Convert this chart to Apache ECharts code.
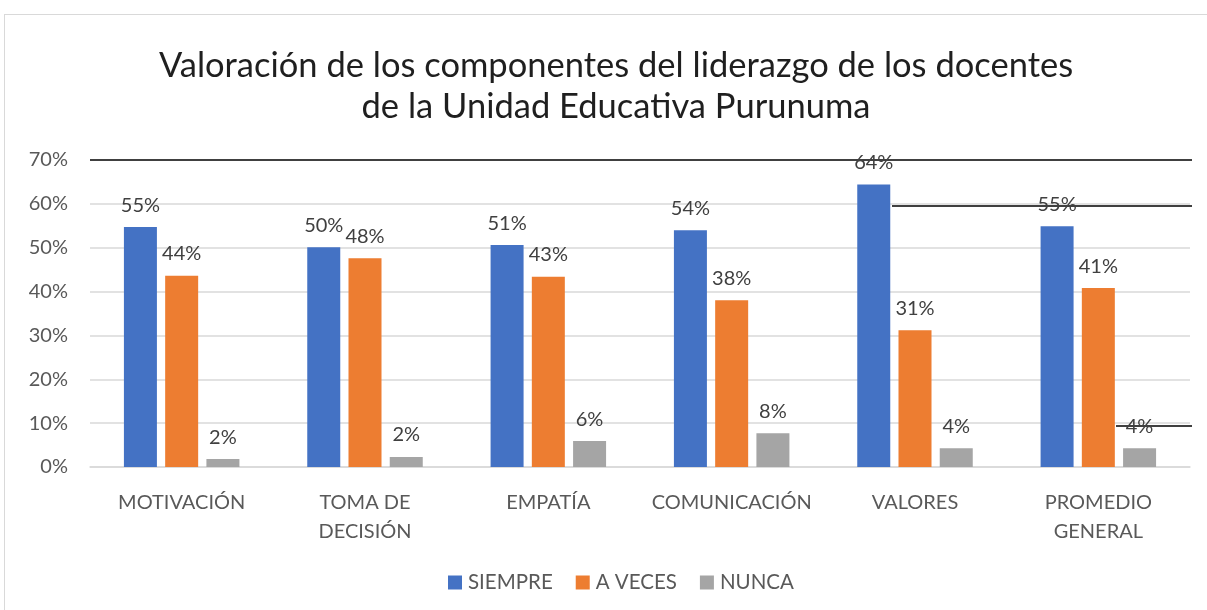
<!DOCTYPE html>
<html>
<head>
<meta charset="utf-8">
<script src="https://cdn.jsdelivr.net/npm/echarts@6/dist/echarts.min.js"></script>
<style>
  html, body { margin: 0; padding: 0; background: #fff; }
  #frame { position: absolute; left: 4px; top: 14px; width: 1220px; height: 620px; border: 1px solid #d9d9d9; }
  #chart { position: absolute; left: 0; top: 0; width: 1207px; height: 610px; }
</style>
</head>
<body>
<div id="frame"></div>
<div id="chart"></div>
<script>
// categorias y valores
const categories = ['MOTIVACIÓN', 'TOMA DE\nDECISIÓN', 'EMPATÍA', 'COMUNICACIÓN', 'VALORES', 'PROMEDIO\nGENERAL'];
const siempre = [54.7, 50.1, 50.6, 54.0, 64.4, 54.9];
const aVeces = [43.6, 47.6, 43.4, 38.0, 31.2, 40.8];
const nunca = [1.8, 2.3, 5.9, 7.7, 4.3, 4.3];
const yTicks = [0, 10, 20, 30, 40, 50, 60, 70];

const fontFam = 'Lato, "Noto Sans", sans-serif';
const labelStyle = {
    show: true,
    position: 'top',
    distance: 12,
    fontFamily: fontFam,
    fontSize: 20,
    color: '#404040',
    formatter: (p) => Math.round(p.value) + '%'
};

let chart = echarts.init(document.getElementById('chart'), null, {renderer: 'canvas'});
chart.setOption({
    animation: false,
    title: {
        text: 'Valoración de los componentes del liderazgo de los docentes\nde la Unidad Educativa Purunuma',
        left: 611,
        top: 40,
        textAlign: 'center',
        padding: 5,
        textStyle: {fontFamily: fontFam, fontSize: 34.5, fontWeight: 'normal', color: '#1f1f1f', lineHeight: 41}
    },
    legend: {
        top: 567,
        left: 443,
        itemWidth: 14,
        itemHeight: 14,
        itemGap: 23,
        icon: 'rect',
        textStyle: {fontFamily: fontFam, fontSize: 20.5, color: '#595959', padding: [0, 0, 0, 1]},
        data: ['SIEMPRE', 'A VECES', 'NUNCA']
    },
    grid: {left: 90, right: 17, top: 160, bottom: 143, containLabel: false},
    xAxis: {
        type: 'category',
        data: categories,
        axisTick: {show: false},
        axisLine: {lineStyle: {color: '#d9d9d9', width: 1.5}},
        axisLabel: {fontFamily: fontFam, fontSize: 20, color: '#595959', margin: 21, lineHeight: 29, interval: 0}
    },
    yAxis: {
        type: 'value',
        min: yTicks[0],
        max: yTicks[yTicks.length - 1],
        interval: 10,
        axisLine: {show: false},
        axisTick: {show: false},
        axisLabel: {fontFamily: fontFam, fontSize: 20, color: '#595959', margin: 22, formatter: '{value}%'},
        splitLine: {lineStyle: {color: '#d9d9d9', width: 1.5}}
    },
    series: [
        {
            name: 'SIEMPRE', type: 'bar', data: siempre, barWidth: 33, barGap: '25%', barCategoryGap: '37%',
            itemStyle: {color: '#4472c4'}, label: labelStyle,
            markLine: {
                silent: true, symbol: 'none', label: {show: false},
                lineStyle: {color: '#404040', width: 2, type: 'solid'},
                data: [
                    [{yAxis: 70, x: 90}, {yAxis: 70, x: 1192}],
                    [{yAxis: 59.5, x: 892}, {yAxis: 59.5, x: 1192}],
                    [{yAxis: 9.5, x: 1116}, {yAxis: 9.5, x: 1192}]
                ]
            }
        },
        {name: 'A VECES', type: 'bar', data: aVeces, barWidth: 33, itemStyle: {color: '#ed7d31'}, label: labelStyle},
        {name: 'NUNCA', type: 'bar', data: nunca, barWidth: 33, itemStyle: {color: '#a5a5a5'}, label: labelStyle}
    ]
});
</script>
</body>
</html>
